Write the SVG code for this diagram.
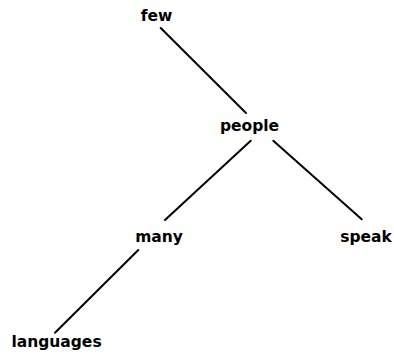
<svg xmlns="http://www.w3.org/2000/svg" width="394" height="354" viewBox="0 0 394 354">
<style>
text{font-family:"DejaVu Sans",sans-serif;font-weight:bold;font-size:15.5px;fill:#000;text-anchor:middle}
.e line{stroke:#000;stroke-width:2;stroke-linecap:round}
</style>
<rect width="394" height="354" fill="#fff"/>
<g class="e" id="edges">
<line x1="160.7" y1="28" x2="246" y2="113"/>
<line x1="250.7" y1="140.7" x2="165" y2="220"/>
<line x1="273.3" y1="140.7" x2="361.7" y2="219.3"/>
<line x1="138.3" y1="250" x2="55" y2="332.7"/>
</g>
<g id="n-few"><text x="156.5" y="21">few</text></g>
<g id="n-people"><text x="249.5" y="130.5">people</text></g>
<g id="n-many"><text x="159" y="242">many</text></g>
<g id="n-speak"><text x="366" y="242">speak</text></g>
<g id="n-languages"><text x="56.5" y="347">languages</text></g>
</svg>
